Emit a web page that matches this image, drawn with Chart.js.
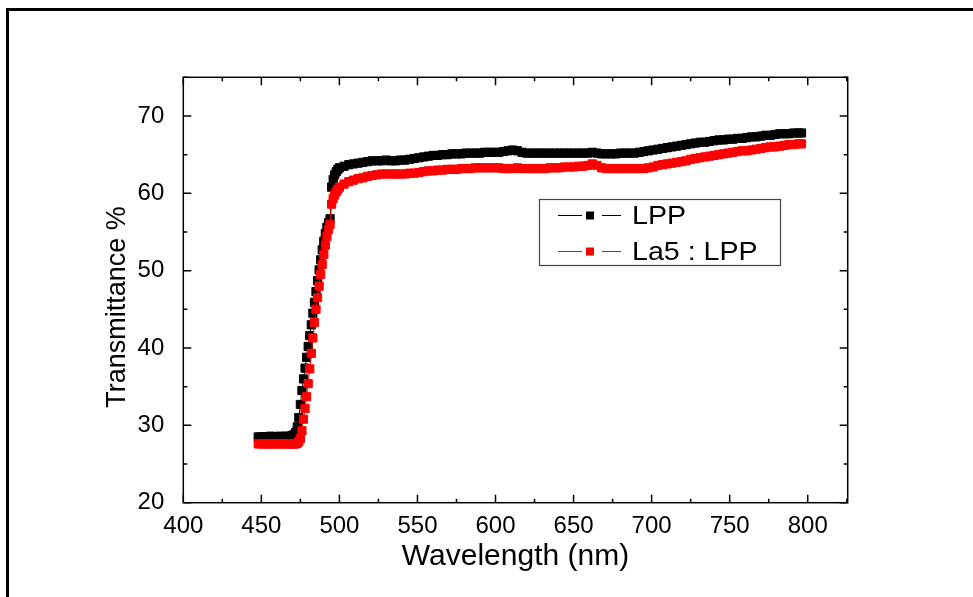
<!DOCTYPE html>
<html>
<head>
<meta charset="utf-8">
<script src="https://cdn.jsdelivr.net/npm/chart.js@4"></script>
<style>
  html, body { margin: 0; padding: 0; background: #fff; }
  #wrap { width: 973px; height: 597px; position: relative; }
</style>
</head>
<body>
<div id="wrap"><canvas id="c" width="973" height="597"></canvas></div>
<script>
// ---- data ----
const wavelengths = [
  448,450,452,454,456,458,460,462,464,466,468,470,
  471,472,473,474,475,476,477,478,479,480,
  481,482,483,484,485,486,487,488,489,490,
  491,492,493,494,495,496,497,498,499,500,
  503,506,509,512,515,518,521,524,527,530,
  533,536,539,542,545,548,551,554,557,560,
  563,566,569,572,575,578,581,584,587,590,
  593,596,599,602,605,608,611,614,617,620,
  623,626,629,632,635,638,641,644,647,650,
  653,656,659,662,665,668,671,674,677,680,
  683,686,689,692,695,698,701,704,707,710,
  713,716,719,722,725,728,731,734,737,740,
  743,746,749,752,755,758,761,764,767,770,
  773,776,779,782,785,788,791,794,796
];
const lppValues = [
  28.5,28.5,28.5,28.5,28.6,28.5,28.5,28.6,28.5,28.6,28.6,28.7,
  28.8,29.1,29.8,31.0,32.7,34.5,36.0,37.4,38.8,40.2,
  41.6,43.0,44.5,45.9,47.3,48.7,50.1,51.4,52.7,53.8,
  54.8,55.6,56.2,56.7,60.8,61.8,62.4,62.8,63.1,63.3,
  63.5,63.7,63.8,63.9,64.0,64.1,64.2,64.2,64.2,64.3,
  64.2,64.2,64.3,64.3,64.4,64.5,64.6,64.7,64.8,64.9,
  64.9,65.0,65.0,65.1,65.1,65.1,65.2,65.2,65.2,65.2,
  65.3,65.3,65.3,65.3,65.4,65.5,65.6,65.5,65.3,65.2,
  65.2,65.2,65.2,65.2,65.2,65.2,65.2,65.2,65.2,65.2,
  65.2,65.2,65.2,65.3,65.2,65.1,65.1,65.1,65.1,65.2,
  65.2,65.2,65.2,65.3,65.4,65.5,65.6,65.7,65.8,65.9,
  66.0,66.1,66.2,66.3,66.4,66.5,66.6,66.6,66.7,66.8,
  66.9,66.9,67.0,67.0,67.1,67.1,67.2,67.3,67.3,67.4,
  67.5,67.5,67.6,67.7,67.7,67.7,67.8,67.8,67.8
];
const la5Values = [
  27.6,27.6,27.6,27.6,27.6,27.6,27.6,27.6,27.6,27.6,27.6,27.6,
  27.6,27.6,27.7,27.9,28.3,29.3,30.8,32.2,33.7,35.4,
  37.3,39.3,41.3,43.3,45.0,46.5,48.0,49.5,50.8,52.1,
  53.3,54.4,55.3,56.0,58.6,59.3,59.8,60.2,60.5,60.8,
  61.2,61.5,61.7,61.9,62.0,62.2,62.3,62.4,62.5,62.5,
  62.5,62.5,62.5,62.5,62.6,62.6,62.7,62.8,62.9,62.9,
  63.0,63.0,63.1,63.1,63.1,63.2,63.2,63.2,63.3,63.3,
  63.3,63.3,63.3,63.3,63.2,63.2,63.2,63.3,63.2,63.2,
  63.2,63.2,63.2,63.2,63.3,63.3,63.3,63.4,63.4,63.4,
  63.5,63.5,63.6,63.8,63.6,63.3,63.2,63.2,63.2,63.2,
  63.2,63.2,63.2,63.2,63.2,63.3,63.4,63.6,63.7,63.8,
  63.9,64.0,64.1,64.2,64.4,64.5,64.6,64.7,64.8,64.9,
  65.0,65.1,65.2,65.3,65.4,65.5,65.5,65.6,65.7,65.8,
  65.9,66.0,66.0,66.1,66.2,66.3,66.3,66.4,66.4
];
const seriesNames = ['LPP', 'La5 : LPP'];
const seriesColors = ['#000000', '#ff0000'];
const xMajorTicks = [400,450,500,550,600,650,700,750,800];
const xMinorTicks = [425,475,525,575,625,675,725,775,825];
const yMajorTicks = [20,30,40,50,60,70];
const yMinorTicks = [25,35,45,55,65,75];
const xTitle = 'Wavelength (nm)';
const yTitle = 'Transmittance %';

const FONT = '"Liberation Sans", Arial, sans-serif';

function toPoints(vals) { return wavelengths.map((w, i) => ({ x: w, y: vals[i] })); }

const whiteBg = {
  id: 'whiteBg',
  beforeDraw(chart) {
    const ctx = chart.ctx;
    ctx.save(); ctx.fillStyle = '#fff'; ctx.fillRect(0, 0, chart.width, chart.height); ctx.restore();
  }
};

const frame = {
  id: 'frame',
  afterDraw(chart) {
    const ctx = chart.ctx;
    ctx.save();
    ctx.strokeStyle = '#000';
    ctx.lineWidth = 3;
    ctx.beginPath();
    ctx.moveTo(7.5, chart.height);
    ctx.lineTo(7.5, 9.5);
    ctx.lineTo(chart.width, 9.5);
    ctx.stroke();
    ctx.restore();
  }
};

// y-axis title drawn beside the y scale (slightly below centre, as in the reference)
const yAxisTitle = {
  id: 'yAxisTitle',
  afterDraw(chart) {
    const ctx = chart.ctx;
    const ys = chart.scales.y;
    const cy = ys.getPixelForValue(45.3);
    ctx.save();
    ctx.translate(118, cy);
    ctx.rotate(-Math.PI / 2);
    ctx.fillStyle = '#000';
    ctx.font = '27px ' + FONT;
    ctx.textAlign = 'center';
    ctx.textBaseline = 'middle';
    ctx.fillText(yTitle, 0, 0);
    ctx.restore();
  }
};

const axisBox = {
  id: 'axisBox',
  afterDatasetsDraw(chart) {
    const ctx = chart.ctx;
    const a = chart.chartArea;
    const xs = chart.scales.x, ys = chart.scales.y;
    ctx.save();
    ctx.strokeStyle = '#000';
    ctx.lineWidth = 1.5;
    ctx.strokeRect(a.left, a.top, a.right - a.left, a.bottom - a.top);
    ctx.beginPath();
    const maj = 8, min = 4;
    xMajorTicks.forEach(v => { const p = xs.getPixelForValue(v);
      ctx.moveTo(p, a.bottom); ctx.lineTo(p, a.bottom - maj);
      ctx.moveTo(p, a.top); ctx.lineTo(p, a.top + maj); });
    xMinorTicks.forEach(v => { const p = xs.getPixelForValue(v);
      ctx.moveTo(p, a.bottom); ctx.lineTo(p, a.bottom - min);
      ctx.moveTo(p, a.top); ctx.lineTo(p, a.top + min); });
    yMajorTicks.forEach(v => { const p = ys.getPixelForValue(v);
      ctx.moveTo(a.left, p); ctx.lineTo(a.left + maj, p);
      ctx.moveTo(a.right, p); ctx.lineTo(a.right - maj, p); });
    yMinorTicks.forEach(v => { const p = ys.getPixelForValue(v);
      ctx.moveTo(a.left, p); ctx.lineTo(a.left + min, p);
      ctx.moveTo(a.right, p); ctx.lineTo(a.right - min, p); });
    ctx.stroke();
    ctx.restore();
  }
};

const boxLegend = {
  id: 'boxLegend',
  afterDraw(chart) {
    const ctx = chart.ctx;
    const bx = 539.5, by = 199.5, bw = 241, bh = 66;
    ctx.save();
    ctx.strokeStyle = '#444';
    ctx.lineWidth = 1.2;
    ctx.strokeRect(bx, by, bw, bh);
    const rows = [215.5, 251.5];
    chart.data.datasets.forEach((ds, i) => {
      const y = rows[i];
      ctx.strokeStyle = ds.borderColor;
      ctx.lineWidth = 1;
      ctx.beginPath();
      ctx.moveTo(558, y); ctx.lineTo(582, y);
      ctx.moveTo(602, y); ctx.lineTo(621, y);
      ctx.stroke();
      ctx.fillStyle = ds.borderColor;
      ctx.fillRect(586, y - 4, 8, 8);
      ctx.fillStyle = '#000';
      ctx.font = '26px ' + FONT;
      ctx.textBaseline = 'middle';
      ctx.textAlign = 'left';
      ctx.save();
      ctx.translate(632, y + 1);
      ctx.scale(1.1, 1);
      ctx.fillText(ds.label, 0, 0);
      ctx.restore();
    });
    ctx.restore();
  }
};

const datasets = [0, 1].map(i => ({
  label: seriesNames[i],
  data: toPoints(i === 0 ? lppValues : la5Values),
  borderColor: seriesColors[i],
  backgroundColor: seriesColors[i],
  borderWidth: 1,
  pointStyle: 'rect',
  pointRadius: 5.8,
  pointBorderWidth: 1,
  pointBackgroundColor: seriesColors[i],
  pointBorderColor: seriesColors[i],
  tension: 0,
  order: i === 0 ? 1 : 0
}));

new Chart(document.getElementById('c'), {
  type: 'line',
  data: { datasets },
  plugins: [whiteBg, axisBox, boxLegend, yAxisTitle, frame],
  options: {
    responsive: false,
    animation: false,
    devicePixelRatio: 1,
    layout: { padding: { top: 77.3, right: 125.3, left: 0, bottom: 0 } },
    plugins: { legend: { display: false }, tooltip: { enabled: false } },
    scales: {
      x: {
        type: 'linear',
        min: 400, max: 825.6,
        afterBuildTicks: s => { s.ticks = xMajorTicks.map(v => ({ value: v })); },
        afterFit: s => { s.height = 94.3; },
        grid: { display: false },
        border: { display: false },
        ticks: { color: '#000', font: { family: FONT, size: 24 }, padding: 1, maxRotation: 0, autoSkip: false },
        title: { display: true, text: xTitle, color: '#000', font: { family: FONT, size: 30 }, padding: { top: 0, bottom: 22 } }
      },
      y: {
        type: 'linear',
        min: 20, max: 75,
        afterBuildTicks: s => { s.ticks = yMajorTicks.map(v => ({ value: v })); },
        afterFit: s => { s.width = 183.3; },
        grid: { display: false },
        border: { display: false },
        ticks: { color: '#000', font: { family: FONT, size: 24 }, padding: 11, autoSkip: false },
        title: { display: false, text: yTitle }
      }
    }
  }
});
</script>
</body>
</html>
